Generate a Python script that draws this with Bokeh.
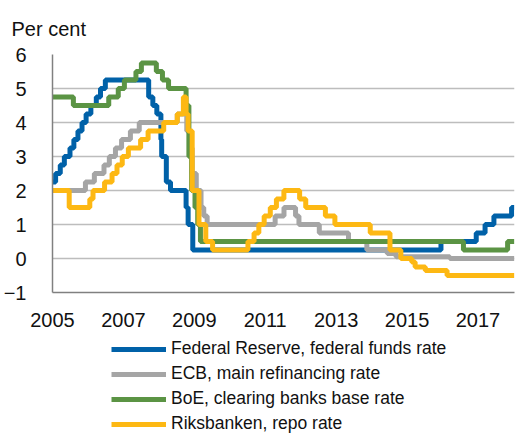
import pandas as pd
from bokeh.plotting import figure
from bokeh.layouts import column
from bokeh.models import Range1d, FixedTicker, Legend, LegendItem
from bokeh.embed import file_html
from bokeh.resources import INLINE

# Policy rates (per cent), change dates and new levels
fed_dates = ["2005-01-01","2005-02-02","2005-03-22","2005-05-03","2005-06-30","2005-08-09","2005-09-20",
             "2005-11-01","2005-12-13","2006-01-31","2006-03-28","2006-05-10","2006-06-29","2007-09-18",
             "2007-10-31","2007-12-11","2008-01-22","2008-01-30","2008-03-18","2008-04-30","2008-10-08",
             "2008-10-29","2008-12-16","2015-12-16","2016-12-14","2017-03-15","2017-06-14","2017-12-13"]
fed_rates = [2.25,2.5,2.75,3.0,3.25,3.5,3.75,4.0,4.25,4.5,4.75,5.0,5.25,4.75,4.5,4.25,3.5,3.0,2.25,2.0,
             1.5,1.0,0.25,0.5,0.75,1.0,1.25,1.5]

ecb_dates = ["2005-01-01","2005-12-06","2006-03-08","2006-06-15","2006-08-09","2006-10-11","2006-12-13",
             "2007-03-14","2007-06-13","2008-07-09","2008-10-15","2008-11-12","2008-12-10","2009-01-21",
             "2009-03-11","2009-04-08","2009-05-13","2011-04-13","2011-07-13","2011-11-09","2011-12-14",
             "2012-07-11","2013-05-08","2013-11-13","2014-06-11","2014-09-10","2016-03-16"]
ecb_rates = [2.0,2.25,2.5,2.75,3.0,3.25,3.5,3.75,4.0,4.25,3.75,3.25,2.5,2.0,1.5,1.25,1.0,1.25,1.5,1.25,
             1.0,0.75,0.5,0.25,0.15,0.05,0.0]

boe_dates = ["2005-01-01","2005-08-04","2006-08-03","2006-11-09","2007-01-11","2007-05-10","2007-07-05",
             "2007-12-06","2008-02-07","2008-04-10","2008-10-08","2008-11-06","2008-12-04","2009-01-08",
             "2009-02-05","2009-03-05","2016-08-04","2017-11-02"]
boe_rates = [4.75,4.5,4.75,5.0,5.25,5.5,5.75,5.5,5.25,5.0,4.5,3.0,2.0,1.5,1.0,0.5,0.25,0.5]

riks_dates = ["2005-01-01","2005-06-22","2006-01-20","2006-02-22","2006-06-21","2006-09-06","2006-10-27",
              "2006-12-20","2007-02-21","2007-06-27","2007-09-12","2008-02-20","2008-07-09","2008-09-10",
              "2008-10-08","2008-10-29","2008-12-10","2009-02-18","2009-04-29","2009-07-08","2010-07-07",
              "2010-09-08","2010-10-27","2010-12-21","2011-02-22","2011-04-26","2011-07-12","2011-12-21",
              "2012-02-22","2012-09-12","2012-12-19","2013-12-18","2014-07-09","2014-10-29","2015-02-18",
              "2015-03-25","2015-07-08","2016-02-17"]
riks_rates = [2.0,1.5,1.75,2.0,2.25,2.5,2.75,3.0,3.25,3.5,3.75,4.0,4.25,4.75,4.25,3.75,2.0,1.0,0.5,0.25,
              0.5,0.75,1.0,1.25,1.5,1.75,2.0,1.75,1.5,1.25,1.0,0.75,0.25,0.0,-0.1,-0.25,-0.35,-0.5]

end_date = "2018-01-10"
year_ticks = [2005, 2007, 2009, 2011, 2013, 2015, 2017]
y_ticks = [-1, 0, 1, 2, 3, 4, 5, 6]

series = [
    ("Federal Reserve, federal funds rate", fed_dates, fed_rates, "#0061A8"),
    ("ECB, main refinancing rate", ecb_dates, ecb_rates, "#A5A5A5"),
    ("BoE, clearing banks base rate", boe_dates, boe_rates, "#5B9444"),
    ("Riksbanken, repo rate", riks_dates, riks_rates, "#FDB813"),
]


def dec_year(dates):
    d = pd.to_datetime(pd.Series(dates))
    days = d.dt.is_leap_year.map({True: 366, False: 365})
    return list(d.dt.year + (d.dt.dayofyear - 1) / days)


FONT = "Liberation Sans"

p = figure(width=516, height=340, output_backend="svg", toolbar_location=None,
           x_range=Range1d(2005, 2018.03), y_range=Range1d(-1, 6),
           min_border_left=45, min_border_right=2, min_border_top=53, min_border_bottom=48)
p.outline_line_color = None
p.background_fill_color = "white"
p.border_fill_color = "white"

p.title.text = "Per cent"
p.title.text_font = FONT
p.title.text_font_size = "20px"
p.title.text_font_style = "normal"
p.title.text_color = "#111111"
p.title.offset = -41
p.title.standoff = 30

xa = p.xaxis[0]
xa.ticker = FixedTicker(ticks=year_ticks)
xa.major_tick_line_color = None
xa.minor_tick_line_color = None
xa.axis_line_color = "#808080"
xa.axis_line_width = 1.5
xa.major_label_text_font = FONT
xa.major_label_text_font_size = "20px"
xa.major_label_text_color = "#111111"
xa.major_label_standoff = 14

ya = p.yaxis[0]
ya.ticker = FixedTicker(ticks=y_ticks)
ya.major_tick_line_color = None
ya.minor_tick_line_color = None
ya.axis_line_color = "#808080"
ya.axis_line_width = 1.5
ya.major_label_text_font = FONT
ya.major_label_text_font_size = "20px"
ya.major_label_text_color = "#111111"
ya.major_label_standoff = 20

p.xgrid.grid_line_color = None
p.ygrid.ticker = FixedTicker(ticks=[0, 1, 2, 3, 4, 5, 6])
p.ygrid.grid_line_color = "#BDBDBD"
p.ygrid.grid_line_width = 1.5

# legend lives in its own strip below the chart
lg = figure(width=516, height=94, output_backend="svg", toolbar_location=None,
            x_range=Range1d(0, 1), y_range=Range1d(0, 1), x_axis_type=None, y_axis_type=None,
            min_border_left=0, min_border_right=0, min_border_top=0, min_border_bottom=0)
lg.outline_line_color = None
lg.grid.grid_line_color = None
lg.background_fill_color = "white"
lg.border_fill_color = "white"

items = []
for name, dates, rates, color in series:
    xs = dec_year(dates + [end_date])
    ys = rates + [rates[-1]]
    p.step(xs, ys, mode="after", line_color=color, line_width=5)
    # legend-only proxy, outside the strip's visible range
    r = lg.line(x=[5, 6], y=[5, 5], line_color=color, line_width=5)
    items.append(LegendItem(label=name, renderers=[r]))

legend = Legend(items=items, location=(59, 0), orientation="vertical")
legend.label_text_font = FONT
legend.label_text_font_size = "17.5px"
legend.label_text_color = "#111111"
legend.glyph_width = 55
legend.glyph_height = 20
legend.label_height = 20
legend.label_standoff = 5
legend.spacing = 4
legend.padding = 0
legend.margin = 0
legend.border_line_color = None
legend.background_fill_alpha = 0
lg.add_layout(legend, "center")

layout = column(p, lg, spacing=0)
open("out.html", "w").write(file_html(layout, INLINE))
